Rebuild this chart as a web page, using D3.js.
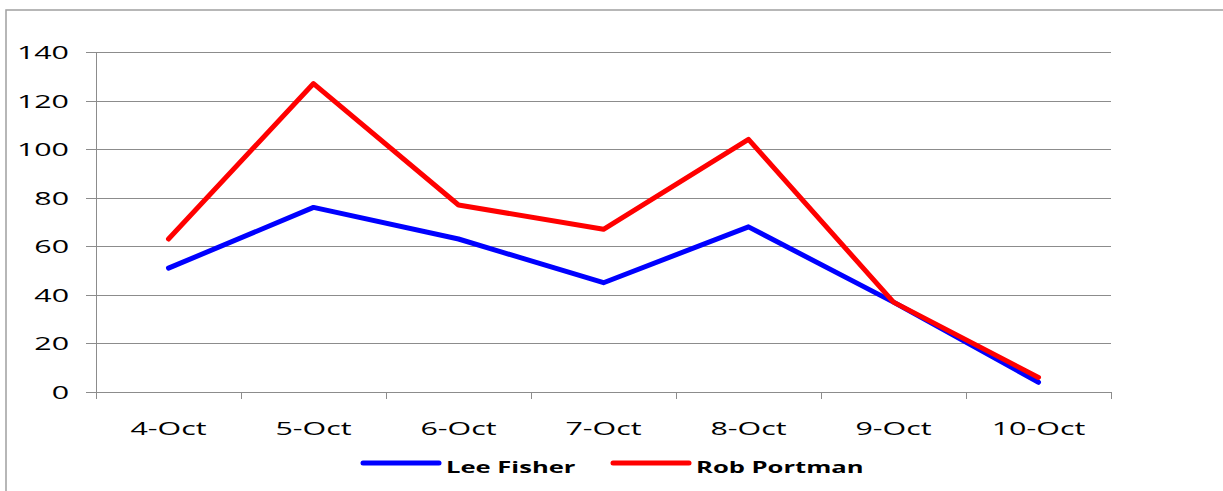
<!DOCTYPE html>
<html><head><meta charset="utf-8">
<script src="https://cdn.jsdelivr.net/npm/d3@7"></script>
<style>body{margin:0;background:#fff}svg{display:block}</style>
</head><body>
<script>
const categories = ["4-Oct","5-Oct","6-Oct","7-Oct","8-Oct","9-Oct","10-Oct"];
const leeFisher = [51, 76, 63, 45, 68, 37, 4];
const robPortman = [63, 127, 77, 67, 104, 37, 6];
const yTicks = [0, 20, 40, 60, 80, 100, 120, 140];
const seriesNames = ["Lee Fisher", "Rob Portman"];
const seriesColors = ["#0000ff", "#ff0000"];

(function () {
const W = 1223, H = 491, SX = 1.6;
const svg = d3.select("body").append("svg").attr("width", W).attr("height", H);

// frame
svg.append("rect").attr("x", 6).attr("y", 10).attr("width", W + 10).attr("height", H + 10)
  .attr("fill", "none").attr("stroke", "#a0a0a0").attr("stroke-width", 1.5);

const pLeft = 96, pRight = 1111, pTop = 52, pBottom = 392;
const x = d3.scaleBand().domain(categories).range([pLeft, pRight]);
const y = d3.scaleLinear().domain([0, 140]).range([pBottom, pTop]);

// gridlines
svg.append("g").selectAll("line").data(yTicks).join("line")
  .attr("x1", pLeft - 10).attr("x2", pRight)
  .attr("y1", d => Math.round(y(d)) + 0.5).attr("y2", d => Math.round(y(d)) + 0.5)
  .attr("stroke", "#8c8c8c").attr("stroke-width", 1);

// y axis line
svg.append("line").attr("x1", pLeft + 0.5).attr("x2", pLeft + 0.5).attr("y1", pTop).attr("y2", pBottom)
  .attr("stroke", "#8c8c8c");

// x tick marks
const tickXs = categories.map(c => x(c)).concat([pRight]);
svg.append("g").selectAll("line").data(tickXs).join("line")
  .attr("x1", d => Math.round(d) + 0.5).attr("x2", d => Math.round(d) + 0.5)
  .attr("y1", pBottom).attr("y2", pBottom + 7)
  .attr("stroke", "#8c8c8c");

// y labels
svg.append("g").selectAll("text").data(yTicks).join("text")
  .attr("transform", d => `translate(69,${y(d) + 7}) scale(${SX},1)`)
  .attr("text-anchor", "end")
  .attr("font-family", "Open Sans").attr("font-size", 19).attr("fill", "#000")
  .text(d => d);

// x labels
svg.append("g").selectAll("text").data(categories).join("text")
  .attr("transform", d => `translate(${x(d) + x.bandwidth() / 2},435) scale(${SX},1)`)
  .attr("text-anchor", "middle")
  .attr("font-family", "Open Sans").attr("font-size", 19).attr("fill", "#000")
  .text(d => d);

// lines
const line = d3.line().x((d, i) => x(categories[i]) + x.bandwidth() / 2).y(d => y(d));
[leeFisher, robPortman].forEach((s, k) => {
  svg.append("path").datum(s).attr("d", line)
    .attr("fill", "none").attr("stroke", seriesColors[k]).attr("stroke-width", 5)
    .attr("stroke-linejoin", "round").attr("stroke-linecap", "round");
});

// legend
const legX = [363, 613];
seriesNames.forEach((n, k) => {
  svg.append("line").attr("x1", legX[k]).attr("x2", legX[k] + 76).attr("y1", 463).attr("y2", 463)
    .attr("stroke", seriesColors[k]).attr("stroke-width", 5).attr("stroke-linecap", "round");
  svg.append("text")
    .attr("transform", `translate(${legX[k] + 83},473) scale(${SX},1)`)
    .attr("font-family", "Open Sans").attr("font-weight", "bold").attr("font-size", 16).attr("fill", "#000")
    .text(n);
});
})();
</script>
</body></html>
